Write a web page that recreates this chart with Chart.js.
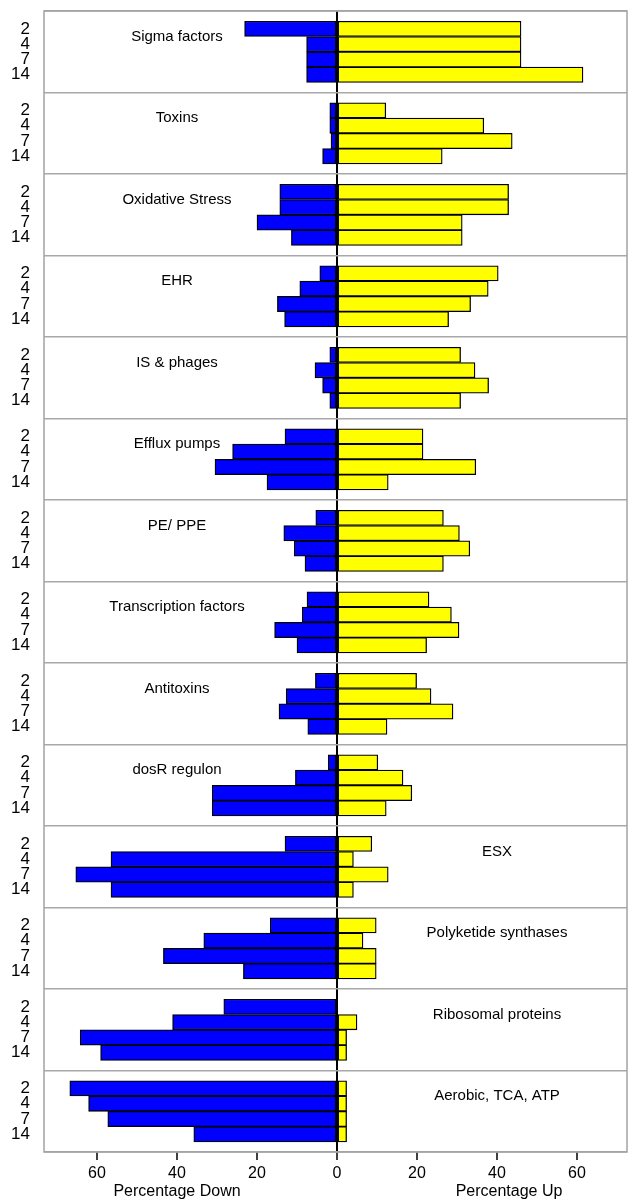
<!DOCTYPE html>
<html>
<head>
<meta charset="utf-8">
<script src="https://cdn.jsdelivr.net/npm/chart.js@4.4.1/dist/chart.umd.min.js"></script>
<style>
  html, body { margin: 0; padding: 0; background: #ffffff; }
  canvas { display: block; }
</style>
</head>
<body>
<canvas id="chart" width="628" height="1202"></canvas>
<script>
// Functional categories, top to bottom
const categories = [
  'Sigma factors', 'Toxins', 'Oxidative Stress', 'EHR', 'IS & phages',
  'Efflux pumps', 'PE/ PPE', 'Transcription factors', 'Antitoxins',
  'dosR regulon', 'ESX', 'Polyketide synthases', 'Ribosomal proteins',
  'Aerobic, TCA, ATP'
];

// Time points (days) shown for every category
const dayLabels = ['2', '4', '7', '14'];

// Percentage of genes down-regulated, per category, days 2/4/7/14
const percentDown = [
  [23.1, 7.6, 7.6, 7.6],
  [1.8, 1.8, 1.5, 3.6],
  [14.3, 14.3, 20.0, 11.4],
  [4.3, 9.3, 14.9, 13.1],
  [1.8, 5.5, 3.6, 1.8],
  [13.0, 26.1, 30.5, 17.5],
  [5.3, 13.3, 10.7, 8.0],
  [7.5, 8.7, 15.6, 10.0],
  [5.4, 12.7, 14.5, 7.3],
  [2.2, 10.4, 31.2, 31.2],
  [13.0, 56.5, 65.3, 56.5],
  [16.7, 33.3, 43.4, 23.4],
  [28.3, 41.1, 64.2, 59.1],
  [66.8, 62.1, 57.3, 35.8]
];

// Percentage of genes up-regulated, per category, days 2/4/7/14
const percentUp = [
  [46.0, 46.0, 46.0, 61.5],
  [12.2, 36.7, 43.8, 26.3],
  [42.9, 42.9, 31.3, 31.3],
  [40.3, 37.8, 33.4, 27.9],
  [30.9, 34.5, 37.9, 30.9],
  [21.5, 21.5, 34.7, 12.8],
  [26.6, 30.6, 33.2, 26.6],
  [23.0, 28.6, 30.5, 22.4],
  [19.9, 23.5, 29.0, 12.5],
  [10.2, 16.5, 18.7, 12.3],
  [8.7, 4.1, 12.8, 4.1],
  [9.8, 6.5, 9.8, 9.8],
  [0.0, 5.0, 2.4, 2.4],
  [2.4, 2.4, 2.4, 2.4]
];

// Tick values of the percentage axis
const xTickValues = [-60, -40, -20, 0, 20, 40, 60];

// ---- layout of the stacked rows on a linear y scale (1 unit = one bar) ----
const GROUP_PITCH = 5.33;   // rows of one category plus the gap
const GROUP_PAD = 0.67;     // space above the first bar of a category
const rowPos = (g, k) => g * GROUP_PITCH + GROUP_PAD + k + 0.5;
const yMax = categories.length * GROUP_PITCH;

const rowTicks = [];
categories.forEach((c, g) => dayLabels.forEach((d, k) => rowTicks.push(rowPos(g, k))));
const separatorTicks = [];
for (let g = 0; g <= categories.length; g++) separatorTicks.push(g * GROUP_PITCH);

const downPoints = [], upPoints = [];
categories.forEach((c, g) => {
  dayLabels.forEach((d, k) => {
    downPoints.push({ x: -percentDown[g][k], y: rowPos(g, k) });
    upPoints.push({ x: percentUp[g][k], y: rowPos(g, k) });
  });
});

const FONT = '"Liberation Sans", Arial, Helvetica, sans-serif';

// keep the label overhang of a vertical axis from shrinking the plot area
const noEdgePadding = s => { s.paddingTop = 0; s.paddingBottom = 0; };

// Frame around the plotting region
const framePlugin = {
  id: 'frame',
  beforeDatasetsDraw(chart) {
    const { ctx, chartArea: a } = chart;
    ctx.save();
    ctx.strokeStyle = '#a3a3a3';
    ctx.lineWidth = 1.5;
    ctx.strokeRect(a.left, a.top, a.right - a.left, a.bottom - a.top);
    ctx.restore();
  }
};

// Category names and the two axis captions
const textPlugin = {
  id: 'texts',
  afterDatasetsDraw(chart) {
    const { ctx } = chart;
    const xs = chart.scales.x, ys = chart.scales.y;
    ctx.save();
    ctx.fillStyle = '#000';
    ctx.textAlign = 'center';
    ctx.textBaseline = 'middle';
    ctx.font = '15px ' + FONT;
    categories.forEach((name, g) => {
      // put the name on the side where the bars leave room for it
      const onRight = Math.max(...percentDown[g]) > 40;
      const x = xs.getPixelForValue(onRight ? 40 : -40);
      const y = ys.getPixelForValue(g * GROUP_PITCH + GROUP_PAD + 1);
      ctx.fillText(name, x, y);
    });
    ctx.font = '16px ' + FONT;
    ctx.fillText('Percentage Down', xs.getPixelForValue(-40), 1192);
    ctx.fillText('Percentage Up', xs.getPixelForValue(43), 1192);
    ctx.restore();
  }
};

new Chart(document.getElementById('chart'), {
  type: 'bar',
  data: {
    datasets: [
      {
        label: 'Percentage Down',
        data: downPoints,
        backgroundColor: '#0000ff',
        borderColor: '#000000',
        borderWidth: 1.3,
        borderSkipped: false
      },
      {
        label: 'Percentage Up',
        data: upPoints,
        backgroundColor: '#ffff00',
        borderColor: '#000000',
        borderWidth: 1.3,
        borderSkipped: false
      }
    ]
  },
  options: {
    indexAxis: 'y',
    responsive: false,
    animation: false,
    devicePixelRatio: 1,
    layout: { padding: { top: 11, right: 1, left: 0, bottom: 0 } },
    datasets: { bar: { categoryPercentage: 1, barPercentage: 1 } },
    plugins: { legend: { display: false }, tooltip: { enabled: false } },
    scales: {
      x: {
        type: 'linear',
        bounds: 'data',
        stacked: true,
        min: -73.25,
        max: 72.5,
        afterBuildTicks: s => { s.ticks = xTickValues.map(v => ({ value: v })); },
        afterFit: s => { s.height = 50; s.paddingLeft = 0; s.paddingRight = 0; },
        border: { display: false },
        grid: {
          drawOnChartArea: true,
          drawTicks: true,
          tickLength: 8,
          tickColor: '#000',
          tickWidth: 1.5,
          color: c => (c.tick && c.tick.value === 0 ? '#000' : 'rgba(0,0,0,0)'),
          lineWidth: c => (c.tick && c.tick.value === 0 ? 2 : 0)
        },
        ticks: {
          autoSkip: false,
          maxRotation: 0,
          padding: 4,
          color: '#000',
          font: { family: FONT, size: 16 },
          callback: v => String(Math.abs(v))
        }
      },
      y: {
        type: 'linear',
        bounds: 'data',
        offset: false,
        stacked: true,
        reverse: true,
        min: 0,
        max: yMax,
        afterBuildTicks: s => { s.ticks = rowTicks.map(v => ({ value: v })); },
        afterFit: s => { s.width = 44; noEdgePadding(s); },
        border: { display: false },
        grid: { display: false, drawTicks: false, offset: false },
        ticks: {
          autoSkip: false,
          padding: 14,
          color: '#000',
          font: { family: FONT, size: 17 },
          callback: (v, i) => dayLabels[i % dayLabels.length]
        }
      },
      y2: {
        type: 'linear',
        bounds: 'data',
        offset: false,
        position: 'right',
        reverse: true,
        min: 0,
        max: yMax,
        afterBuildTicks: s => { s.ticks = separatorTicks.map(v => ({ value: v })); },
        afterFit: s => { s.width = 0; noEdgePadding(s); },
        border: { display: false },
        grid: { color: '#a8a8a8', lineWidth: 1.5, drawTicks: false, offset: false },
        ticks: { display: false }
      }
    }
  },
  plugins: [framePlugin, textPlugin]
});
</script>
</body>
</html>
